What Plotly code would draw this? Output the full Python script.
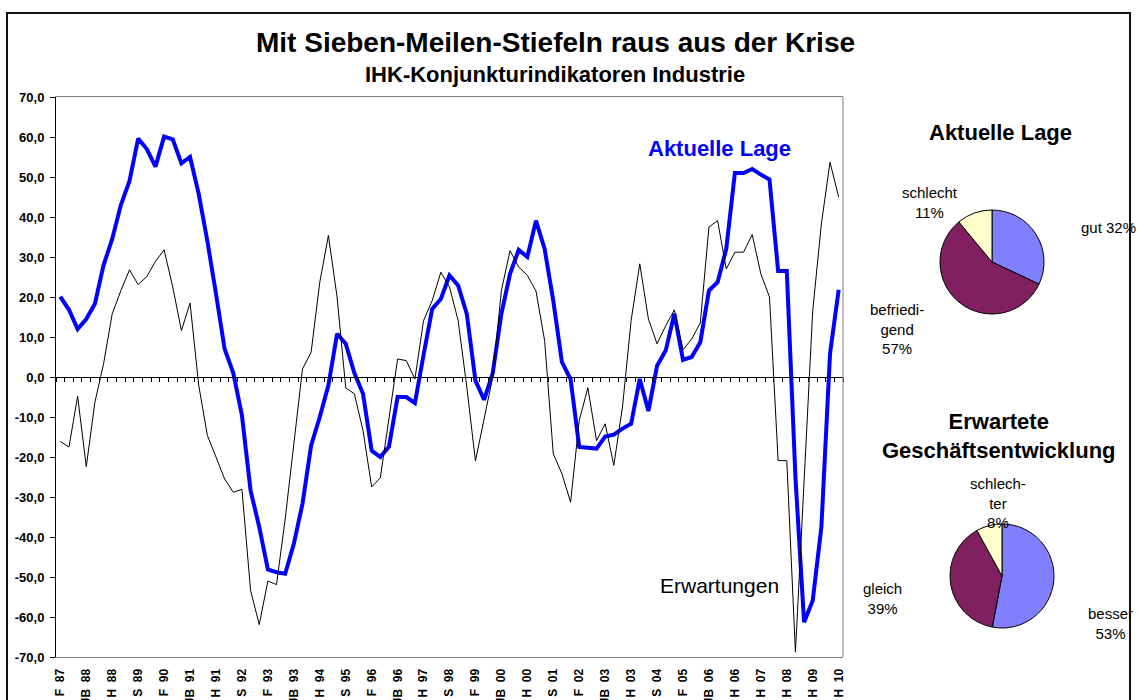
import plotly.graph_objects as go

# ---------------- data ----------------
tick_labels = ["F 87", "JB 88", "H 88", "S 89", "F 90", "JB 91", "H 91", "S 92", "F 93", "JB 93",
               "H 94", "S 95", "F 96", "JB 96", "H 97", "S 98", "F 99", "JB 00", "H 00", "S 01",
               "F 02", "JB 03", "H 03", "S 04", "F 05", "JB 06", "H 06", "H 07", "H 08", "H 09", "H 10"]

aktuelle_lage = [20.1, 16.8, 12.0, 14.5, 18.3, 28.0, 34.5, 43.0, 49.0, 59.6,
                 57.0, 52.6, 60.1, 59.4, 53.4, 55.0, 45.8, 34.0, 20.8, 7.0,
                 1.0, -9.6, -28.4, -37.5, -48.1, -48.8, -49.2, -41.7, -31.7, -17.1,
                 -10.0, -2.1, 10.8, 8.3, 1.0, -4.2, -18.4, -20.0, -17.4, -5.0,
                 -5.0, -6.5, 5.5, 17.0, 19.5, 25.4, 22.9, 15.8, -0.9, -5.7,
                 1.0, 15.8, 25.8, 31.8, 30.0, 39.1, 32.0, 19.1, 3.7, -0.5,
                 -17.5, -17.8, -17.9, -14.9, -14.4, -12.9, -11.7, -0.5, -8.5, 2.8,
                 6.6, 15.8, 4.3, 5.0, 8.7, 21.6, 23.7, 32.0, 51.0, 51.0,
                 52.0, 50.6, 49.4, 26.5, 26.5, -25.0, -61.3, -55.9, -37.5, 5.8,
                 21.8]

erwartungen = [-16.1, -17.5, -4.8, -22.4, -6.3, 3.3, 15.8, 21.6, 26.8, 23.1,
               25.1, 28.9, 31.8, 22.5, 11.6, 18.5, -2.0, -14.6, -20.0, -25.5,
               -28.8, -28.1, -53.4, -61.9, -51.0, -51.9, -35.5, -16.0, 2.0, 6.2,
               23.7, 35.4, 20.0, -2.7, -4.2, -13.4, -27.5, -25.2, -10.5, 4.5,
               4.1, -0.5, 14.1, 19.1, 26.2, 22.5, 14.1, -2.5, -21.0, -10.5,
               0.0, 21.6, 31.6, 27.5, 25.4, 21.5, 9.1, -19.2, -24.2, -31.3,
               -10.9, -2.7, -15.9, -11.7, -22.1, -7.5, 14.1, 28.3, 14.5, 8.3,
               12.8, 16.8, 6.8, 9.5, 13.5, 37.5, 39.1, 27.0, 31.2, 31.2,
               35.6, 25.8, 20.0, -20.9, -20.9, -68.8, -26.0, 16.6, 38.3, 53.7,
               45.0]

lage_labels = ["gut", "befriedigend", "schlecht"]
lage_values = [32, 57, 11]
lage_text = ["gut 32%", "befriedi-<br>gend<br>57%", "schlecht<br>11%"]

erw_labels = ["besser", "gleich", "schlechter"]
erw_values = [53, 39, 8]
erw_text = ["besser<br>53%", "gleich<br>39%", "schlech-<br>ter<br>8%"]

y_ticks = list(range(-70, 80, 10))

# ---------------- layout helpers ----------------
W, H = 1138, 700
FONT = "Arial, Liberation Sans, sans-serif"


def px_x(px):
    return px / W


def px_y(py):
    return (H - py) / H


n = len(aktuelle_lage)
x_idx = list(range(n))
period_step = 3
tickvals = list(range(0, n, period_step))
disp_labels = [lbl.replace(" ", "\u00a0\u00a0") for lbl in tick_labels]

x_dom = [px_x(56), px_x(843)]
y_dom = [px_y(657), px_y(97)]
zero_pos = y_dom[0] + (0 - (-70)) / 140 * (y_dom[1] - y_dom[0])

fig = go.Figure()

fig.add_trace(go.Scatter(x=x_idx, y=erwartungen, mode="lines", name="Erwartungen",
                         line=dict(color="black", width=1), showlegend=False,
                         xaxis="x2", yaxis="y"))
fig.add_trace(go.Scatter(x=x_idx, y=aktuelle_lage, mode="lines", name="Aktuelle Lage",
                         line=dict(color="#0000FF", width=4), showlegend=False,
                         xaxis="x", yaxis="y"))

pie_colors = ["#8080FF", "#802060", "#FFFFCC"]
fig.add_trace(go.Pie(labels=lage_labels, values=lage_values, sort=False, direction="clockwise",
                     rotation=0, marker=dict(colors=pie_colors, line=dict(color="black", width=1)),
                     textinfo="none", hoverinfo="label+percent", showlegend=False,
                     domain=dict(x=[px_x(940), px_x(1044)], y=[px_y(314), px_y(210)])))
fig.add_trace(go.Pie(labels=erw_labels, values=erw_values, sort=False, direction="clockwise",
                     rotation=0, marker=dict(colors=pie_colors, line=dict(color="black", width=1)),
                     textinfo="none", hoverinfo="label+percent", showlegend=False,
                     domain=dict(x=[px_x(950), px_x(1054)], y=[px_y(628), px_y(524)])))

annotations = [
    dict(text="<b>Mit Sieben-Meilen-Stiefeln raus aus der Krise</b>", x=px_x(555), y=px_y(42),
         font=dict(size=28, color="black", family=FONT)),
    dict(text="<b>IHK-Konjunkturindikatoren Industrie</b>", x=px_x(555), y=px_y(75),
         font=dict(size=22, color="black", family=FONT)),
    dict(text="<b>Aktuelle Lage</b>", x=px_x(719), y=px_y(148),
         font=dict(size=22, color="#0000FF", family=FONT)),
    dict(text="Erwartungen", x=px_x(719), y=px_y(585),
         font=dict(size=21, color="black", family=FONT)),
    dict(text="<b>Aktuelle Lage</b>", x=px_x(1000), y=px_y(133),
         font=dict(size=22, color="black", family=FONT)),
    dict(text="<b>Erwartete<br>Geschäftsentwicklung</b>", x=px_x(999), y=px_y(436),
         font=dict(size=22, color="black", family=FONT)),
]
# pie labels
lage_pos = [(1108, 227), (897, 329), (930, 202)]
erw_pos = [(1110, 623), (882, 598), (998, 503)]
for txt, (px, py) in zip(lage_text, lage_pos):
    annotations.append(dict(text=txt, x=px_x(px), y=px_y(py),
                            font=dict(size=15, color="black", family=FONT)))
for txt, (px, py) in zip(erw_text, erw_pos):
    annotations.append(dict(text=txt, x=px_x(px), y=px_y(py),
                            font=dict(size=15, color="black", family=FONT)))
for a in annotations:
    a.update(xref="paper", yref="paper", showarrow=False, xanchor="center", yanchor="middle")

shapes = [
    # outer frame
    dict(type="rect", xref="paper", yref="paper", x0=px_x(7), x1=px_x(1130), y0=-0.1, y1=px_y(13),
         line=dict(color="#111111", width=2), layer="below"),
    # right border of plot area
    dict(type="line", xref="x domain", yref="y domain", x0=1, x1=1, y0=0, y1=1,
         line=dict(color="#808080", width=1)),
]

fig.update_layout(
    width=W, height=H,
    margin=dict(l=0, r=0, t=0, b=0),
    paper_bgcolor="white", plot_bgcolor="white",
    font=dict(family=FONT, color="black"),
    showlegend=False,
    annotations=annotations,
    shapes=shapes,
    xaxis=dict(domain=x_dom, range=[-0.5, n - 0.5], tickmode="array", tickvals=tickvals,
               ticktext=disp_labels, tickangle=-90, ticks="", showgrid=False, zeroline=False,
               showline=True, linecolor="#808080", linewidth=1, mirror=True,
               tickfont=dict(size=12, family=FONT, color="black", weight="bold"),
               ticklabelstandoff=6, automargin=False, fixedrange=True),
    xaxis2=dict(overlaying="x", anchor="free", position=zero_pos, range=[-0.5, n - 0.5],
                tickmode="array", tickvals=[k - 0.5 for k in range(n + 1)], ticks="outside",
                ticklen=4, tickcolor="black", showticklabels=False, showgrid=False, zeroline=False,
                showline=True, linecolor="black", linewidth=1, automargin=False, fixedrange=True),
    yaxis=dict(domain=y_dom, range=[-70, 70], tickmode="array", tickvals=y_ticks,
               ticktext=[f"{v:.1f}".replace(".", ",") for v in y_ticks],
               ticks="outside", ticklen=5, tickcolor="black", showgrid=False, zeroline=False,
               showline=True, linecolor="black", linewidth=1,
               tickfont=dict(size=13, family=FONT, color="black", weight="bold"),
               ticklabelstandoff=3, automargin=False, fixedrange=True),
)

fig.write_html("out.html", config={"displayModeBar": False},
               post_script="document.body.style.margin='0px';")
